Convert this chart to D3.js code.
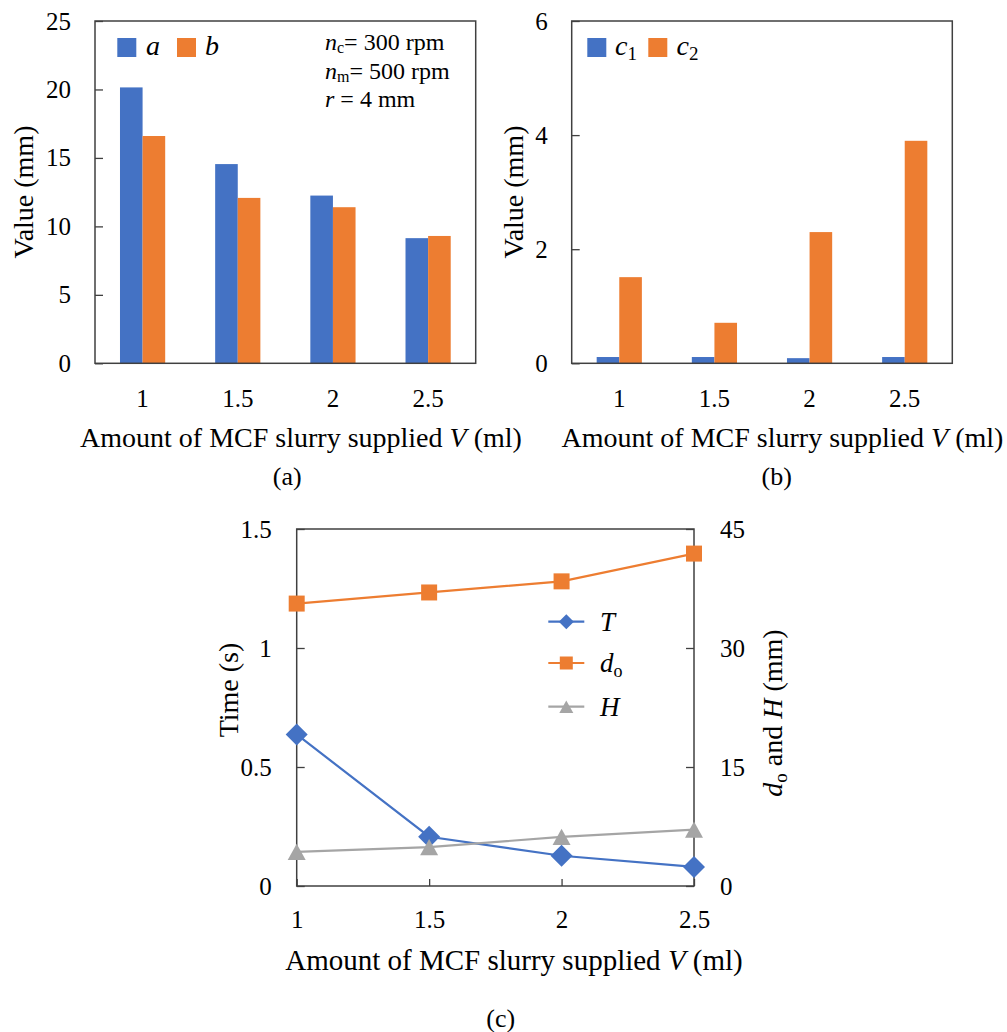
<!DOCTYPE html>
<html>
<head>
<meta charset="utf-8">
<script src="https://cdn.jsdelivr.net/npm/d3@7"></script>
<style>
  body { margin: 0; background: #fff; }
  svg text { font-family: "Liberation Serif", "Times New Roman", serif; fill: #000; }
</style>
</head>
<body>
<svg id="fig" width="1007" height="1032"></svg>
<script>
// ---- data ----
const volumes = ["1", "1.5", "2", "2.5"];          // slurry amount V (ml), bar categories
const volumeNum = [1, 1.5, 2, 2.5];                // same, numeric for the line panel
const aVals = [20.15, 14.55, 12.25, 9.14];         // a (mm)
const bVals = [16.6, 12.08, 11.4, 9.3];            // b (mm)
const c1Vals = [0.11, 0.11, 0.09, 0.11];           // c1 (mm)
const c2Vals = [1.51, 0.71, 2.30, 3.90];           // c2 (mm)
const timeT = [0.637, 0.207, 0.127, 0.08];         // T (s)
const dOuter = [35.6, 37.0, 38.4, 41.9];           // d_o (mm)
const heightH = [4.3, 4.9, 6.2, 7.1];              // H (mm)
const ticksA = [0, 5, 10, 15, 20, 25];
const ticksB = [0, 2, 4, 6];
const ticksTime = [0, 0.5, 1, 1.5];
const ticksRight = [0, 15, 30, 45];
const ticksV = [1, 1.5, 2, 2.5];

const BLUE = "#4472C4", ORANGE = "#ED7D31", GRAY = "#A5A5A5";
const FRAME = "#404040";
const plain = d3.format("");

const svg = d3.select("#fig");

// rich text helper: parts = [{t, i (italic), sub}]; subscripts drop by `drop` px
function richText(sel, parts, subSize, drop = 5) {
  let shifted = false;
  parts.forEach(p => {
    const ts = sel.append("tspan").text(p.t);
    if (p.i) ts.attr("font-style", "italic");
    if (p.sub) {
      ts.attr("font-size", subSize);
      if (!shifted) { ts.attr("dy", drop); shifted = true; }
    } else if (shifted) { ts.attr("dy", -drop); shifted = false; }
  });
  return sel;
}

function styleAxisText(g, size) {
  g.selectAll("text").attr("font-family", null).attr("font-size", size).attr("fill", "#000");
  g.attr("font-family", null);
}

// ---- grouped bar panel ----
function barPanel(opt) {
  const g = svg.append("g");
  const x = d3.scaleBand().domain(volumes).range([opt.x0, opt.x1])
    .paddingInner(0.525).paddingOuter(0.2625);
  const sub = d3.scaleBand().domain(d3.range(opt.series.length)).range([0, x.bandwidth()]);
  const y = d3.scaleLinear().domain([0, opt.yMax]).range([opt.y1, opt.y0]);

  opt.series.forEach((s, si) => {
    g.append("g").selectAll("rect").data(s.vals).join("rect")
      .attr("x", (d, i) => x(volumes[i]) + sub(si))
      .attr("width", sub.bandwidth())
      .attr("y", d => y(d))
      .attr("height", d => y(0) - y(d))
      .attr("fill", s.color);
  });

  // frame
  g.append("rect").attr("x", opt.x0).attr("y", opt.y0)
    .attr("width", opt.x1 - opt.x0).attr("height", opt.y1 - opt.y0)
    .attr("fill", "none").attr("stroke", FRAME).attr("stroke-width", 1.5);

  // y axis, ticks pointing inward
  const ya = g.append("g").attr("transform", `translate(${opt.x0},0)`)
    .call(d3.axisLeft(y).tickValues(opt.ticks).tickFormat(plain)
      .tickSizeInner(-8).tickSizeOuter(0).tickPadding(24));
  ya.select(".domain").remove();
  ya.selectAll("line").attr("stroke", FRAME).attr("stroke-width", 1.3);
  styleAxisText(ya, 25);

  // x axis labels only
  const xa = g.append("g").attr("transform", `translate(0,${opt.y1})`)
    .call(d3.axisBottom(x).tickSize(0).tickPadding(0));
  xa.select(".domain").remove();
  styleAxisText(xa, 25);
  xa.selectAll("text").attr("dy", null).attr("y", 43.4);

  // x title
  const xt = g.append("text").attr("x", opt.xTitleX).attr("y", 446.7)
    .attr("text-anchor", "middle").attr("font-size", 28);
  richText(xt, [{ t: "Amount of MCF slurry supplied " }, { t: "V", i: true }, { t: " (ml)" }], 18);

  // y title
  g.append("text").attr("transform", `translate(${opt.yTitleX},192) rotate(-90)`)
    .attr("text-anchor", "middle").attr("dominant-baseline", "central")
    .attr("font-size", 28).text("Value (mm)");

  // panel letter
  g.append("text").attr("x", opt.letterX).attr("y", 485)
    .attr("text-anchor", "middle").attr("font-size", 26).text(opt.letter);

  // legend
  opt.legend.forEach(L => {
    g.append("rect").attr("x", L.x).attr("y", 38).attr("width", 19).attr("height", 19).attr("fill", L.color);
    const t = g.append("text").attr("x", L.tx).attr("y", 55).attr("font-size", 28);
    richText(t, L.parts, 19, 5);
  });
  return g;
}

barPanel({
  x0: 95, x1: 475.7, y0: 21, y1: 363.3, yMax: 25, ticks: ticksA,
  series: [{ vals: aVals, color: BLUE }, { vals: bVals, color: ORANGE }],
  xTitleX: 301, yTitleX: 23.3, letterX: 287.3, letter: "(a)",
  legend: [
    { x: 117.3, tx: 146, color: BLUE, parts: [{ t: "a", i: true }] },
    { x: 177, tx: 205, color: ORANGE, parts: [{ t: "b", i: true }] }
  ]
});

// process conditions note in panel (a)
(function () {
  const g = svg.append("g");
  const lines = [
    { y: 50, parts: [{ t: "n", i: true }, { t: "c", sub: true }, { t: "= 300 rpm" }] },
    { y: 79, parts: [{ t: "n", i: true }, { t: "m", sub: true }, { t: "= 500 rpm" }] },
    { y: 107, parts: [{ t: "r", i: true }, { t: " = 4 mm" }] }
  ];
  lines.forEach(L => {
    const t = g.append("text").attr("x", 325).attr("y", L.y).attr("font-size", 24);
    richText(t, L.parts, 16, 3);
  });
})();

barPanel({
  x0: 571.7, x1: 952.3, y0: 21, y1: 363.3, yMax: 6, ticks: ticksB,
  series: [{ vals: c1Vals, color: BLUE }, { vals: c2Vals, color: ORANGE }],
  xTitleX: 782.5, yTitleX: 513.3, letterX: 776.7, letter: "(b)",
  legend: [
    { x: 587.3, tx: 615, color: BLUE, parts: [{ t: "c", i: true }, { t: "1", sub: true }] },
    { x: 648.3, tx: 676.5, color: ORANGE, parts: [{ t: "c", i: true }, { t: "2", sub: true }] }
  ]
});

// ---- line panel (c) ----
(function () {
  const X0 = 296.7, X1 = 694, Y0 = 529, Y1 = 886;
  const g = svg.append("g");
  const x = d3.scaleLinear().domain([1, 2.5]).range([X0, X1]);
  const yL = d3.scaleLinear().domain([0, 1.5]).range([Y1, Y0]);
  const yR = d3.scaleLinear().domain([0, 45]).range([Y1, Y0]);

  // symbol types: diamond (rotated square), square, triangle centred in its box
  const diamond = { draw(ctx, size) { const r = Math.sqrt(size) / 2; ctx.moveTo(0, -r); ctx.lineTo(r, 0); ctx.lineTo(0, r); ctx.lineTo(-r, 0); ctx.closePath(); } };
  const square = { draw(ctx, size) { const r = Math.sqrt(size) / 2; ctx.rect(-r, -r, 2 * r, 2 * r); } };
  const triangle = { draw(ctx, size) { const r = Math.sqrt(size) / 2; ctx.moveTo(0, -r * 0.9); ctx.lineTo(r, r * 0.9); ctx.lineTo(-r, r * 0.9); ctx.closePath(); } };

  const series = [
    { vals: timeT, y: yL, color: BLUE, sym: diamond, size: 22 * 22, lsize: 15 * 15, label: [{ t: "T", i: true }] },
    { vals: dOuter, y: yR, color: ORANGE, sym: square, size: 16 * 16, lsize: 13 * 13, label: [{ t: "d", i: true }, { t: "o", sub: true }] },
    { vals: heightH, y: yR, color: GRAY, sym: triangle, size: 18 * 18, lsize: 14 * 14, label: [{ t: "H", i: true }] }
  ];

  // frame
  g.append("rect").attr("x", X0).attr("y", Y0).attr("width", X1 - X0).attr("height", Y1 - Y0)
    .attr("fill", "none").attr("stroke", FRAME).attr("stroke-width", 1.5);

  // axes with inward ticks
  const la = g.append("g").attr("transform", `translate(${X0},0)`)
    .call(d3.axisLeft(yL).tickValues(ticksTime).tickFormat(plain)
      .tickSizeInner(-8).tickSizeOuter(0).tickPadding(25));
  const ra = g.append("g").attr("transform", `translate(${X1},0)`)
    .call(d3.axisRight(yR).tickValues(ticksRight).tickFormat(plain)
      .tickSizeInner(-8).tickSizeOuter(0).tickPadding(26));
  const ba = g.append("g").attr("transform", `translate(0,${Y1})`)
    .call(d3.axisBottom(x).tickValues(ticksV).tickFormat(plain)
      .tickSizeInner(-7).tickSizeOuter(0).tickPadding(0));
  [la, ra, ba].forEach(a => {
    a.select(".domain").remove();
    a.selectAll("line").attr("stroke", FRAME).attr("stroke-width", 1.3);
    styleAxisText(a, 25);
  });
  ba.selectAll("text").attr("dy", null).attr("y", 42.3);

  // lines + markers
  series.forEach(s => {
    const line = d3.line().x((d, i) => x(volumeNum[i])).y(d => s.y(d));
    g.append("path").datum(s.vals).attr("d", line)
      .attr("fill", "none").attr("stroke", s.color).attr("stroke-width", 2.2);
    g.append("g").selectAll("path").data(s.vals).join("path")
      .attr("transform", (d, i) => `translate(${x(volumeNum[i])},${s.y(d)})`)
      .attr("d", d3.symbol().type(s.sym).size(s.size)())
      .attr("fill", s.color);
  });

  // legend
  const rows = [621.7, 663, 706.7];
  series.forEach((s, k) => {
    const ly = rows[k];
    g.append("line").attr("x1", 548.3).attr("x2", 584.3).attr("y1", ly).attr("y2", ly)
      .attr("stroke", s.color).attr("stroke-width", 2.2);
    g.append("path").attr("transform", `translate(566.3,${ly})`)
      .attr("d", d3.symbol().type(s.sym).size(s.lsize)()).attr("fill", s.color);
    const t = g.append("text").attr("x", 600).attr("y", ly + 9).attr("font-size", 27);
    richText(t, s.label, 18, 5);
  });

  // axis titles
  const xt = g.append("text").attr("x", 514).attr("y", 970).attr("text-anchor", "middle").attr("font-size", 29);
  richText(xt, [{ t: "Amount of MCF slurry supplied " }, { t: "V", i: true }, { t: " (ml)" }], 18);

  g.append("text").attr("transform", "translate(228.6,690) rotate(-90)")
    .attr("text-anchor", "middle").attr("dominant-baseline", "central")
    .attr("font-size", 28).text("Time (s)");

  const rt = g.append("text").attr("transform", "translate(782,713) rotate(-90)")
    .attr("text-anchor", "middle").attr("font-size", 28);
  richText(rt, [{ t: "d", i: true }, { t: "o", sub: true }, { t: " and " }, { t: "H", i: true }, { t: " (mm)" }], 19, 5);

  g.append("text").attr("x", 500.7).attr("y", 1027).attr("text-anchor", "middle")
    .attr("font-size", 26).text("(c)");
})();
</script>
</body>
</html>
